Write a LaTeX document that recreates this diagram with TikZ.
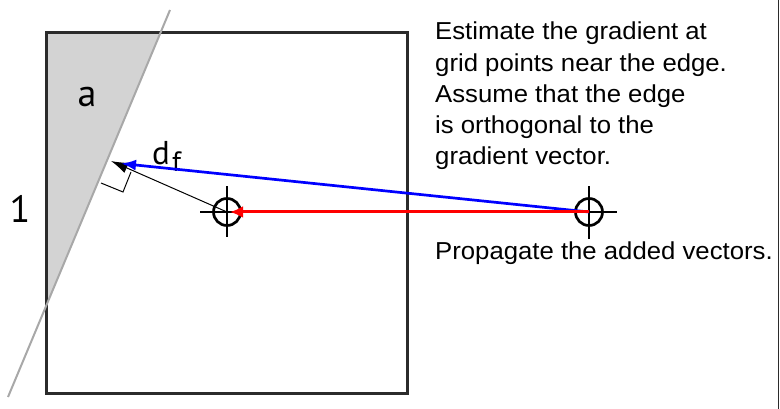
\documentclass[tikz,border=0pt]{standalone}
\usepackage{fontspec}
\setmainfont{Liberation Sans}
\newfontfamily\txtfont[FakeStretch=1.05]{Liberation Sans}
\newfontfamily\labfont{PT Sans}
\usetikzlibrary{arrows.meta}
\definecolor{boxcol}{HTML}{2B2B2B}
\definecolor{edgecol}{HTML}{A8A8A8}
\definecolor{shadecol}{HTML}{D3D3D3}
\definecolor{vred}{HTML}{FF0000}
\definecolor{vblue}{HTML}{0000FF}
\tikzset{
  cellbox/.style={draw=boxcol,line width=3},
  edgeline/.style={draw=edgecol,line width=2},
  crossring/.style={circle,draw=black,line width=2.7,minimum size=27,inner sep=0},
  crossarm/.style={draw=black,line width=2.7},
  sidetext/.style={anchor=base west,inner sep=0,font=\txtfont\fontsize{24.5}{28}\selectfont},
  lab/.style={inner sep=0,font=\labfont\fontsize{38}{42}\selectfont},
}
\begin{document}
\begin{tikzpicture}[x=1pt,y=-1pt]
\useasboundingbox (0,0) rectangle (780,409);
% cell
\coordinate (TL) at (46,32.5);
\coordinate (BR) at (407,393);
\coordinate (ET) at (170,10);
\coordinate (EB) at (8,397);
\fill[shadecol] (46,32.5) -- (160.6,32.5) -- (46,306) -- cycle;
\draw[cellbox] (TL) rectangle (BR);
\draw[edgeline] (ET) -- (EB);
% labels
\node[lab,anchor=base] (la) at (87,107) {a};
\node[lab,anchor=base] (l1) at (20,223) {1};
\node[inner sep=0,anchor=base west,font=\labfont\fontsize{33}{36}\selectfont] (ld) at (152,165) {d};
\node[inner sep=0,anchor=base west,font=\labfont\fontsize{28}{30}\selectfont] (lf) at (172,172) {f};
% crosshairs
\coordinate (P) at (227,212);
\coordinate (Q) at (589,212);
\node[crossring] (pc) at (P) {};
\node[crossring] (qc) at (Q) {};
\draw[crossarm] ([xshift=-27]P) -- ([xshift=26]P);
\draw[crossarm] ([yshift=-25]P) -- ([yshift=26]P);
\draw[crossarm] ([xshift=-27]Q) -- ([xshift=28]Q);
\draw[crossarm] ([yshift=-27]Q) -- ([yshift=26]Q);
% vectors
\coordinate (blackTip) at (111,161);
\coordinate (blueTip) at (121,163.5);
\coordinate (redTip) at (230,212);
\draw[black,line width=1,-{Latex[length=17,width=11]}] (P) -- (blackTip);
\draw[vblue,line width=2.7,-{Latex[length=15,width=11]}] (Q) -- (blueTip);
\draw[vred,line width=3,-{Latex[length=13,width=12]}] (Q) -- (redTip);
% right angle mark
\draw[black,line width=1] (101,183) -- (123,192) -- (131,172);
% texts
\node[sidetext] (t1) at (435,40) {Estimate the gradient at};
\node[sidetext] (t2) at (435,71.5) {grid points near the edge.};
\node[sidetext] (t3) at (435,102.5) {Assume that the edge};
\node[sidetext] (t4) at (435,134) {is orthogonal to the};
\node[sidetext] (t5) at (435,165) {gradient vector.};
\node[sidetext] (t6) at (435,259) {Propagate the added vectors.};
% right border
\draw[boxcol,line width=1.5] (778.5,0) -- (778.5,409);
\end{tikzpicture}
\end{document}
